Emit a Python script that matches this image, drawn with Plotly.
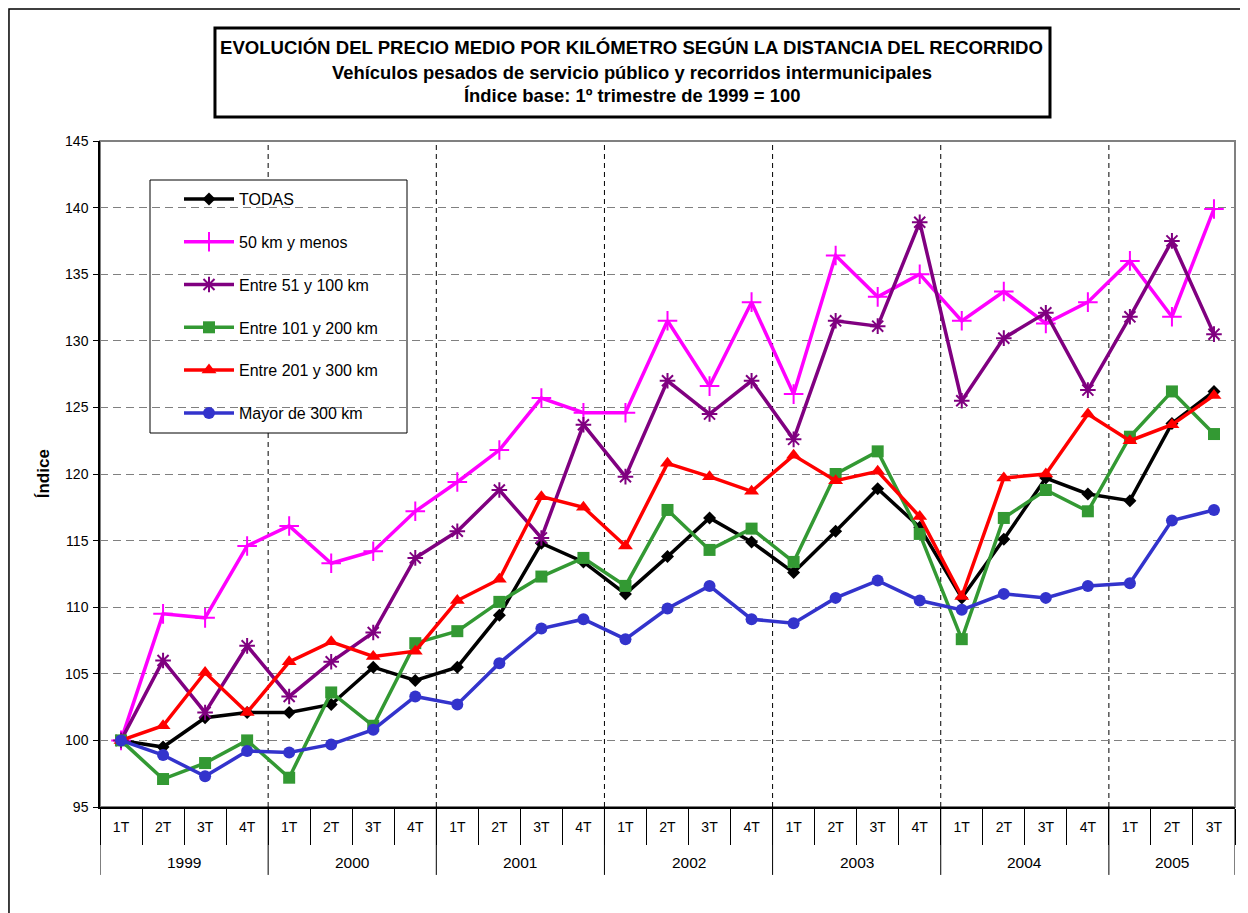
import plotly.graph_objects as go

years = ["1999", "2000", "2001", "2002", "2003", "2004", "2005"]
quarters_per_year = [4, 4, 4, 4, 4, 4, 3]
quarter_names = ["1T", "2T", "3T", "4T"]

todas = [100, 99.5, 101.7, 102.1, 102.1, 102.7, 105.5, 104.5, 105.5, 109.4,
         114.8, 113.4, 111.0, 113.8, 116.7, 114.9, 112.6, 115.7, 118.9, 116.0,
         110.7, 115.1, 119.7, 118.5, 118.0, 123.8, 126.2]
km50 = [100, 109.5, 109.2, 114.6, 116.1, 113.3, 114.2, 117.2, 119.4, 121.8,
        125.7, 124.6, 124.6, 131.5, 126.6, 132.9, 126.0, 136.4, 133.3, 135.0,
        131.5, 133.7, 131.3, 132.9, 136.0, 131.8, 139.9]
km51_100 = [100, 106.0, 102.1, 107.1, 103.3, 105.9, 108.1, 113.7, 115.7, 118.8,
            115.2, 123.7, 119.8, 127.0, 124.5, 127.0, 122.6, 131.5, 131.1, 138.9,
            125.5, 130.2, 132.1, 126.3, 131.8, 137.5, 130.5]
km101_200 = [100, 97.1, 98.3, 100.0, 97.2, 103.6, 101.1, 107.3, 108.2, 110.4,
             112.3, 113.7, 111.6, 117.3, 114.3, 115.9, 113.4, 120.0, 121.7, 115.5,
             107.6, 116.7, 118.8, 117.2, 122.8, 126.2, 123.0]
km201_300 = [100, 101.1, 105.1, 102.1, 105.9, 107.4, 106.3, 106.7, 110.5, 112.1,
             118.3, 117.5, 114.6, 120.8, 119.8, 118.7, 121.4, 119.5, 120.2, 116.8,
             110.8, 119.7, 120.0, 124.5, 122.5, 123.7, 125.9]
km300 = [100, 98.9, 97.3, 99.2, 99.1, 99.7, 100.8, 103.3, 102.7, 105.8,
         108.4, 109.1, 107.6, 109.9, 111.6, 109.1, 108.8, 110.7, 112.0, 110.5,
         109.8, 111.0, 110.7, 111.6, 111.8, 116.5, 117.3]

series_names = ["TODAS", "50 km y menos", "Entre 51 y 100 km", "Entre 101 y 200 km",
                "Entre 201 y 300 km", "Mayor de 300 km"]
series_values = [todas, km50, km51_100, km101_200, km201_300, km300]
colors = ["#000000", "#FF00FF", "#800080", "#339933", "#FF0000", "#3333CC"]
symbols = ["diamond", "cross-thin-open", "asterisk-open", "square", "triangle-up", "circle"]
sizes = [10, 14, 13, 12, 13, 12]

labels = []
for yr, n in zip(years, quarters_per_year):
    labels += quarter_names[:n]
xs = list(range(len(labels)))

fig = go.Figure()
for name, vals, c, s, sz in zip(series_names, series_values, colors, symbols, sizes):
    open_sym = s.endswith("open")
    fig.add_trace(go.Scatter(
        x=xs, y=vals, mode="lines+markers", name=name, legendgroup=name,
        line=dict(color=c, width=3.5),
        marker=dict(symbol=s, size=sz, color=c,
                    line=dict(color=c, width=2 if open_sym else 0)),
    ))

# year boundaries
bounds = [-0.5]
for n in quarters_per_year:
    bounds.append(bounds[-1] + n)

shapes = []
# gray plot frame (top/right), black axes drawn over on left/bottom
shapes.append(dict(type="rect", xref="paper", yref="paper", x0=0, x1=1, y0=0, y1=1,
                   line=dict(color="#808080", width=2), layer="below"))
for b in bounds[1:-1]:
    shapes.append(dict(type="line", xref="x", yref="paper", x0=b, x1=b, y0=0, y1=1,
                       line=dict(color="black", width=1, dash="5px,4px"), layer="below"))
for b in bounds:
    shapes.append(dict(type="line", xref="x", yref="paper", x0=b, x1=b, y0=-0.102, y1=0,
                       line=dict(color="black", width=1)))
# legend box
shapes.append(dict(type="rect", xref="paper", yref="paper",
                   x0=(150 - 100) / 1135, x1=(407 - 100) / 1135,
                   y0=1 - (433 - 141) / 666, y1=1 - (180 - 141) / 666,
                   fillcolor="white", line=dict(color="black", width=1), layer="between"))
# title box
shapes.append(dict(type="rect", xref="paper", yref="paper", x0=0.1013, x1=0.837,
                   y0=1.036, y1=1.1697, line=dict(color="black", width=3)))
# outer border
shapes.append(dict(type="rect", xref="paper", yref="paper", x0=-0.0802, x1=1.0075,
                   y0=-0.2, y1=1.1982, line=dict(color="black", width=1.5)))

annotations = []
for yr, a, b in zip(years, bounds[:-1], bounds[1:]):
    annotations.append(dict(text=yr, x=(a + b) / 2, xref="x", y=-0.084, yref="paper",
                            showarrow=False, yanchor="middle",
                            font=dict(size=15.5, color="black")))
title_lines = [
    ("EVOLUCIÓN DEL PRECIO MEDIO POR KILÓMETRO SEGÚN LA DISTANCIA DEL RECORRIDO", 18.6, 1.1411),
    ("Vehículos pesados de servicio público y recorridos intermunicipales", 18.4, 1.1036),
    ("Índice base: 1º trimestre de 1999 = 100", 18.4, 1.0676),
]
for t, fs, yy in title_lines:
    annotations.append(dict(text="<b>" + t + "</b>", x=0.4687, xref="paper", y=yy, yref="paper",
                            showarrow=False, xanchor="center", yanchor="middle",
                            font=dict(size=fs, color="black")))
annotations.append(dict(text="<b>Índice</b>", x=-0.050, xref="paper", y=0.5, yref="paper",
                        showarrow=False, textangle=-90, xanchor="center", yanchor="middle",
                        font=dict(size=17, color="black")))

fig.update_layout(
    width=1240, height=905,
    margin=dict(l=92, r=13, t=133, b=106),
    paper_bgcolor="white", plot_bgcolor="white",
    font=dict(family="Liberation Sans, Arial, sans-serif", size=14, color="black"),
    showlegend=True,
    legend=dict(x=(179 - 100) / 1135, y=1 - (182 - 141) / 666, xanchor="left", yanchor="top",
                bgcolor="rgba(0,0,0,0)", borderwidth=0,
                font=dict(size=16), itemwidth=50, tracegroupgap=19),
    shapes=shapes, annotations=annotations,
    xaxis=dict(range=[-0.5, 26.5], tickmode="array", tickvals=xs, ticktext=labels,
               ticks="", showgrid=False, zeroline=False,
               showline=True, linecolor="black", linewidth=1.5, mirror=False,
               ticklabelstandoff=6,
               tickfont=dict(size=14),
               minor=dict(tickmode="array", tickvals=[b - 0.5 for b in range(len(labels) + 1)],
                          ticks="outside", ticklen=36, tickcolor="black", tickwidth=1,
                          showgrid=False)),
    yaxis=dict(range=[95, 145], dtick=5, tick0=95, showgrid=True, gridcolor="#808080",
               griddash="8px,5px", gridwidth=1, zeroline=False,
               showline=True, linecolor="black", linewidth=1.5, mirror=False,
               ticks="outside", ticklen=5, tickcolor="black", ticklabelstandoff=2,
               tickfont=dict(size=14)),
)

fig.write_html("out.html")
